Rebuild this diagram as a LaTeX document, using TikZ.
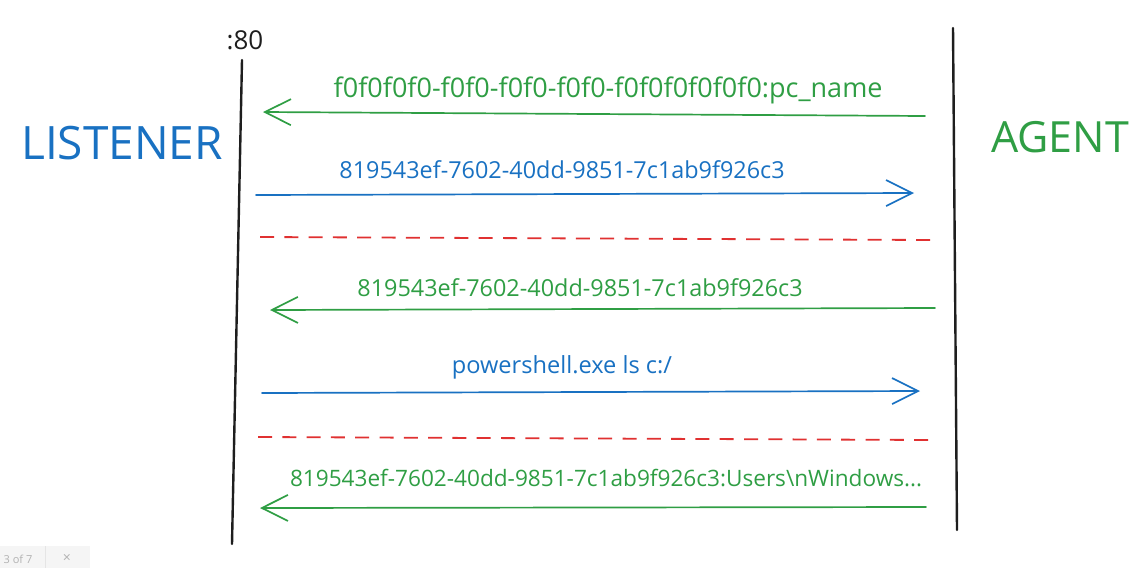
\documentclass[tikz,border=0pt]{standalone}
\usepackage{fontspec}
\setmainfont{Open Sans}
\usetikzlibrary{arrows.meta}
\definecolor{exgreen}{HTML}{2F9E44}
\definecolor{exblue}{HTML}{1971C2}
\definecolor{exred}{HTML}{E03131}
\definecolor{exblack}{HTML}{1E1E1E}
\tikzset{
  lifeline/.style={draw=exblack, line width=2.4pt, line cap=round},
  msg/.style={line width=1.7pt, line cap=round, -{Straight Barb[length=26pt,width=26pt,line width=1.7pt]}},
  togreen/.style={msg, draw=exgreen},
  toblue/.style={msg, draw=exblue},
  sep/.style={draw=exred, line width=1.8pt, dash pattern=on 14pt off 10.3pt},
  lbl/.style={inner sep=0pt, font=\fontsize{#1}{30}\selectfont},
  actor/.style={inner sep=0pt, font=\fontsize{#1}{50}\selectfont}
}
\begin{document}
\begin{tikzpicture}[x=1pt,y=-1pt]
\useasboundingbox (0,0) rectangle (1142,568);
% lifelines
\coordinate (Ltop) at (242,60);
\coordinate (Lbot) at (232,544);
\coordinate (Rtop) at (953,28);
\coordinate (Rbot) at (957,530);
\draw[lifeline] (Ltop) -- (Lbot);
\draw[lifeline] (Rtop) -- (Rbot);
\node[inner sep=0pt, text=exblack, font=\fontsize{26}{30}\selectfont] (port) at (245,40) {:80};
\node[actor=46, text=exblue] (listener) at (122,143) {LISTENER};
\node[actor=43, text=exgreen] (agent) at (1060,137) {AGENT};
% message 1
\coordinate (a1s) at (925,116);
\coordinate (a1e) at (263,112);
\draw[togreen] (a1s) -- (a1e);
\node[lbl=27, text=exgreen] (t1) at (608,90) {f0f0f0f0-f0f0-f0f0-f0f0-f0f0f0f0f0f0:pc\_name};
% message 2
\coordinate (a2s) at (256,195);
\coordinate (a2e) at (914,193);
\draw[toblue] (a2s) -- (a2e);
\node[lbl=23.4, text=exblue] (t2) at (562,170) {819543ef-7602-40dd-9851-7c1ab9f926c3};
% separator 1
\coordinate (d1s) at (260,237);
\coordinate (d1e) at (930,240);
\draw[sep] (d1s) -- (d1e);
% message 3
\coordinate (a3s) at (935,308);
\coordinate (a3e) at (270,310);
\draw[togreen] (a3s) -- (a3e);
\node[lbl=23.4, text=exgreen] (t3) at (580,288) {819543ef-7602-40dd-9851-7c1ab9f926c3};
% message 4
\coordinate (a4s) at (262,393);
\coordinate (a4e) at (920,391);
\draw[toblue] (a4s) -- (a4e);
\node[lbl=23.6, text=exblue] (t4) at (562,367) {powershell.exe ls c:/};
% separator 2
\coordinate (d2s) at (258,437);
\coordinate (d2e) at (930,440);
\draw[sep] (d2s) -- (d2e);
% message 5
\coordinate (a5s) at (926,507);
\coordinate (a5e) at (260,508);
\draw[togreen] (a5s) -- (a5e);
\node[lbl=22.6, text=exgreen] (t5) at (606,478) {819543ef-7602-40dd-9851-7c1ab9f926c3:Users\textbackslash nWindows...};
% viewer overlay
\fill[black!4] (0,546) rectangle (90,568);
\draw[black!10, line width=0.8pt] (45,546) -- (45,568);
\node[inner sep=0pt, text=black!30, font=\fontsize{11}{13}\selectfont] (pager) at (18,559) {3 of 7};
\node[inner sep=0pt, text=black!30, font=\fontsize{14}{14}\selectfont] (closer) at (67,558) {×};
\end{tikzpicture}
\end{document}
